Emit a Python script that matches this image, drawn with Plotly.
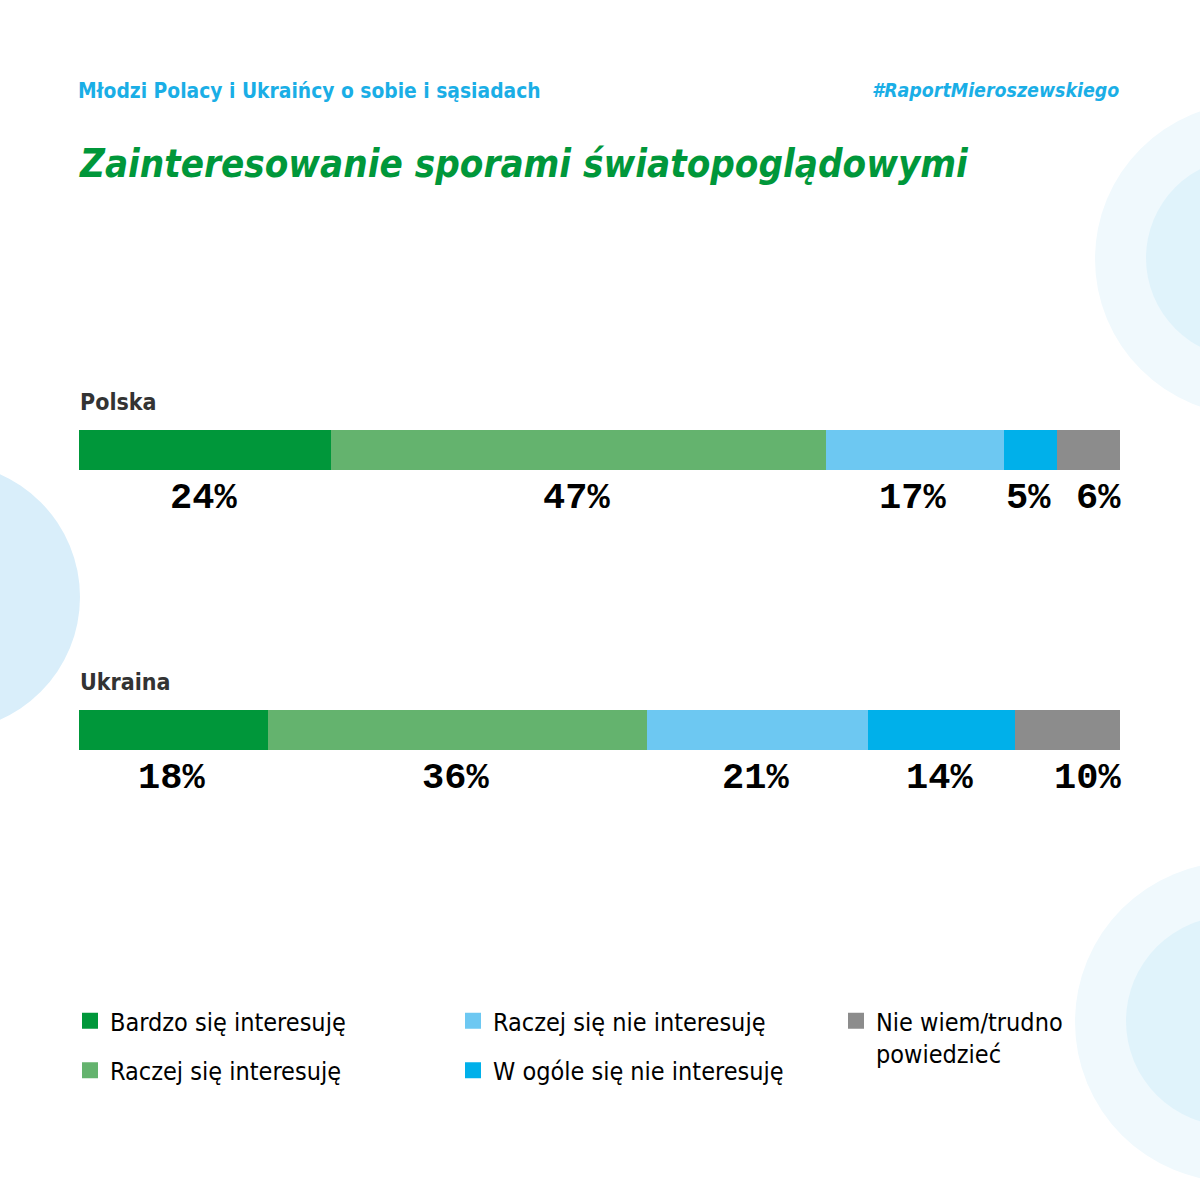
import plotly.graph_objects as go

countries = ["Polska", "Ukraina"]
categories = ["Bardzo się interesuję", "Raczej się interesuję", "Raczej się nie interesuję",
              "W ogóle się nie interesuję", "Nie wiem/trudno<br>powiedzieć"]
values_polska = [24, 47, 17, 5, 6]
values_ukraina = [18, 36, 21, 14, 10]
colors = ["#00973a", "#64b36e", "#6dc8f2", "#00b0ea", "#8c8c8c"]
legend_ids = ["legend", "legend", "legend2", "legend2", "legend3"]

title = "Zainteresowanie sporami światopoglądowymi"
subtitle = "Młodzi Polacy i Ukraińcy o sobie i sąsiadach"
hashtag = "#RaportMieroszewskiego"

W = H = 1200
COND = "DejaVu Sans Condensed, Roboto, sans-serif"
MONO = "Liberation Mono, DejaVu Sans Mono, monospace"

series = [values_polska, values_ukraina]

fig = go.Figure()
for i, cat in enumerate(categories):
    fig.add_trace(go.Bar(
        y=countries, x=[s[i] for s in series], orientation="h",
        marker=dict(color=colors[i], line=dict(width=0)),
        width=40 / 280, showlegend=False, hoverinfo="skip", name=cat))
# legend entries
for i, cat in enumerate(categories):
    fig.add_trace(go.Scatter(
        x=[None], y=[None], mode="markers", name=cat,
        marker=dict(symbol="square", size=16, color=colors[i]),
        legend=legend_ids[i], legendgroup=f"g{i}", showlegend=True))

annotations = []
total = max(sum(s) for s in series)
for ci, (country, vals) in enumerate(zip(countries, series)):
    annotations.append(dict(x=0, y=country, xref="x", yref="y", text=f"<b>{country}</b>",
                            showarrow=False, xanchor="left", yanchor="middle", yshift=48, xshift=-1,
                            font=dict(family=COND, size=23, color="#333333")))
    cum = 0
    for i, v in enumerate(vals):
        mid = cum + v / 2
        last = i == len(vals) - 1
        annotations.append(dict(x=(sum(vals) if last else mid), y=country, xref="x", yref="y",
                                text=f"<b>{v}%</b>", showarrow=False,
                                xanchor="right" if last else "center", yanchor="middle",
                                yshift=-48, xshift=3 if last else -2,
                                font=dict(family=MONO, size=37, color="#000000")))
        cum += v

annotations.append(dict(x=79 / W, y=1 - 91 / H, xref="paper", yref="paper", text=f"<b>{subtitle}</b>",
                        showarrow=False, xanchor="left", yanchor="middle", xshift=-3,
                        font=dict(family=COND, size=20.8, color="#1aaee6")))
annotations.append(dict(x=1120 / W, y=1 - 91 / H, xref="paper", yref="paper", text=f"<b><i>{hashtag}</i></b>",
                        showarrow=False, xanchor="right", yanchor="middle", xshift=1,
                        font=dict(family=COND, size=19.4, color="#1aaee6")))
annotations.append(dict(x=77 / W, y=1 - 164 / H, xref="paper", yref="paper", text=f"<b><i>{title}</i></b>",
                        showarrow=False, xanchor="left", yanchor="middle",
                        font=dict(family=COND, size=38.2, color="#00973a")))

def circle(cx, cy, r, color):
    return dict(type="circle", xref="paper", yref="paper", layer="below",
                x0=(cx - r) / W, x1=(cx + r) / W, y0=1 - (cy + r) / H, y1=1 - (cy - r) / H,
                fillcolor=color, line=dict(width=0))

shapes = [
    circle(1251, 259, 156, "#f0f9fd"),
    circle(1246, 258, 100, "#e0f3fb"),
    circle(1235, 1022, 160, "#f0f9fd"),
    circle(1231, 1021, 105, "#e0f3fb"),
    circle(-54, 597, 134, "#d9eefa"),
]

y_top = 449.5 - 140
y_bot = 729.5 + 140
leg_common = dict(orientation="v", bgcolor="rgba(0,0,0,0)", font=dict(family=COND, size=25, color="#000000"),
                  tracegroupgap=14, itemsizing="trace", yanchor="top", xanchor="left", valign="top")

fig.update_layout(
    width=W, height=H, margin=dict(l=0, r=0, t=0, b=0),
    paper_bgcolor="white", plot_bgcolor="rgba(0,0,0,0)",
    barmode="stack", bargap=0,
    xaxis=dict(domain=[79 / W, 1120 / W], range=[0, total], visible=False, fixedrange=True),
    yaxis=dict(domain=[1 - y_bot / H, 1 - y_top / H], type="category", range=[1.5, -0.5],
               visible=False, fixedrange=True),
    annotations=annotations, shapes=shapes,
    legend=dict(x=70 / W, y=1 - 998 / H, **leg_common),
    legend2=dict(x=453 / W, y=1 - 998 / H, **leg_common),
    legend3=dict(x=836 / W, y=1 - 998 / H, **leg_common),
    showlegend=True,
)

fig.write_html("out.html", config={"displayModeBar": False},
               post_script="document.body.style.margin='0px';")
